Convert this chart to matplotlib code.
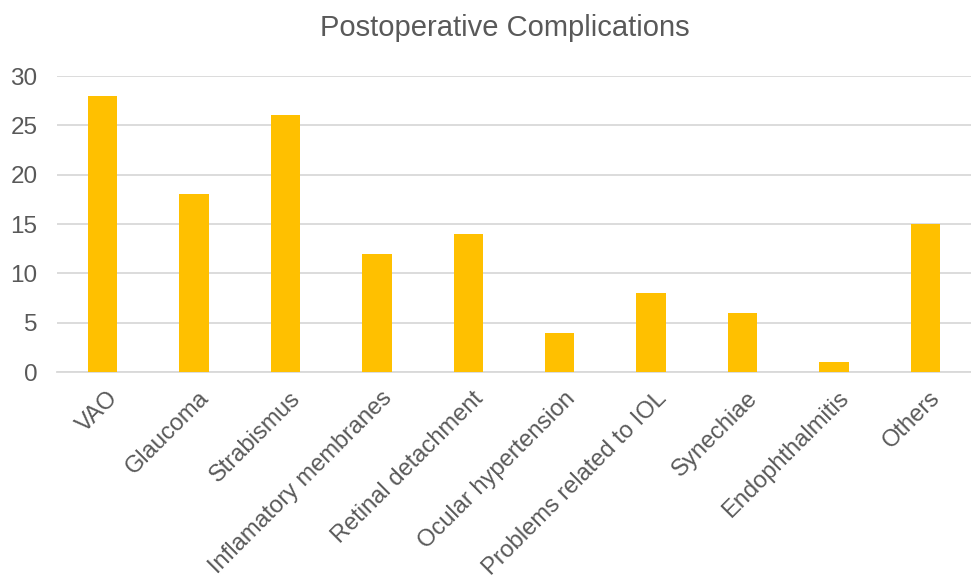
import matplotlib.pyplot as plt
import matplotlib.transforms as mtransforms
import numpy as np

categories = ['VAO', 'Glaucoma', 'Strabismus', 'Inflamatory membranes',
              'Retinal detachment', 'Ocular hypertension',
              'Problems related to IOL', 'Synechiae', 'Endophthalmitis', 'Others']
values = [28, 18, 26, 12, 14, 4, 8, 6, 1, 15]
yticks = [0, 5, 10, 15, 20, 25, 30]

plt.rcParams['font.family'] = ['Liberation Sans', 'DejaVu Sans']
text_color = '#595959'

fig = plt.figure(figsize=(9.71, 5.78), dpi=100)
ax = fig.add_axes([0.0587, 0.3564, 0.9413, 0.5121])

x = np.arange(len(categories))
ax.bar(x, values, width=0.32, color='#FFC000', zorder=3)

ax.set_xlim(-0.5, len(categories) - 0.5)
ax.set_ylim(0, 30)
ax.set_yticks(yticks)
ax.yaxis.grid(True, color='#d9d9d9', linewidth=1.3, zorder=0)
ax.set_xticks(x)
ax.set_xticklabels(categories, rotation=45, ha='right', rotation_mode='anchor')
ax.tick_params(axis='both', length=0, labelsize=17.5, labelcolor=text_color)
ax.tick_params(axis='x', labelsize=17, pad=11)
ax.tick_params(axis='y', pad=14)

# nudge the rotated labels a little to the right
shift = mtransforms.ScaledTranslation(4 / 100, 0, fig.dpi_scale_trans)
for lbl in ax.get_xticklabels():
    lbl.set_transform(lbl.get_transform() + shift)

for side in ['top', 'right', 'left']:
    ax.spines[side].set_visible(False)
ax.spines['bottom'].set_color('#d9d9d9')
ax.spines['bottom'].set_linewidth(1.3)

fig.text(0.5195, 0.952, 'Postoperative Complications', ha='center', va='center',
         fontsize=21, color=text_color)

fig.savefig('out.png', dpi=100)
